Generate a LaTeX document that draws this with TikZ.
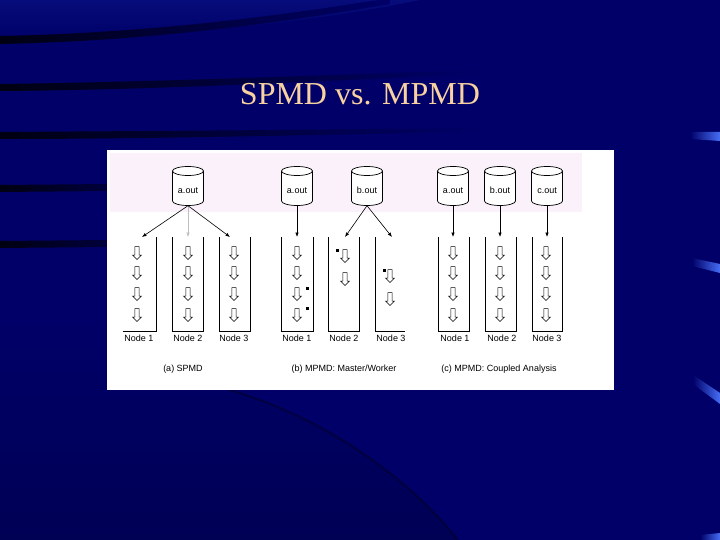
\documentclass[tikz,border=0pt]{standalone}
\usepackage{fontspec}
\setmainfont{Liberation Serif}
\newfontfamily\diagfont{Liberation Sans}
\usetikzlibrary{shapes.geometric,shapes.arrows,arrows.meta}
\definecolor{bg}{RGB}{0,0,104}
\definecolor{bglight}{RGB}{6,12,122}
\definecolor{bgdark}{RGB}{0,0,36}
\definecolor{streak}{RGB}{0,0,18}
\definecolor{lightb}{RGB}{70,110,245}
\definecolor{titlec}{RGB}{248,210,160}
\definecolor{pinkish}{RGB}{250,241,250}
\newcommand\mycyl[3]{%
  \draw[cylline,fill=white] (#2-15.5,171) -- (#2-15.5,201)
     arc[start angle=180,end angle=0,x radius=15.5,y radius=4.5] -- (#2+15.5,171);
  \draw[cylline,fill=white] (#2,171) ellipse[x radius=15.5,y radius=4.5];
  \node[cyltext] (#1) at (#2,190.5) {#3};}
\begin{document}
\begin{tikzpicture}[x=1pt,y=-1pt,
  cylline/.style={draw=black,line width=0.7pt},
  cyltext/.style={font=\diagfont\fontsize{9}{10}\selectfont,minimum width=31pt,minimum height=30pt,inner sep=0pt},
  conn/.style={line width=0.6pt,-{Latex[length=4.5pt,width=3.5pt]}},
  col/.style={line width=0.8pt},
  blk/.style={shape=single arrow,draw,fill=white,line width=0.6pt,shape border rotate=270,
     inner sep=1.8pt,minimum height=13pt,single arrow head extend=2.3pt},
  lab/.style={font=\diagfont\fontsize{9}{10}\selectfont,inner sep=0pt},
  title/.style={font=\fontsize{32}{38}\selectfont,text=titlec,inner sep=0pt}]
\useasboundingbox (0,0) rectangle (720,540);
% background
\fill[bg] (0,0) rectangle (720,540);
\shade[top color=bglight,bottom color=bg] (0,0) -- (420,0) .. controls (300,25) and (150,38) .. (0,40) -- cycle;
\begin{scope}
  \clip (0,320) -- (107,320) -- (107,390) -- (230,390) .. controls (330,420) and (410,480) .. (458,540) -- (0,540) -- cycle;
  \shade[top color=bg,middle color=bgdark,bottom color=bg!80!black] (0,320) rectangle (460,560);
\end{scope}
\draw[streak,line width=2pt,opacity=0.4] (230,390) .. controls (330,420) and (410,480) .. (458,540);
% dark streaks
\shade[left color=streak,right color=bg] (0,36) .. controls (150,33) and (280,16) .. (390,-2) -- (390,4) .. controls (280,23) and (150,41) .. (0,44) -- cycle;
\shade[left color=streak,right color=bg] (0,84) .. controls (150,82) and (300,76) .. (480,70) -- (480,74) .. controls (300,82) and (150,90) .. (0,91) -- cycle;
\shade[left color=streak,right color=bg] (0,132) .. controls (150,131) and (300,130) .. (480,128) -- (480,132) .. controls (300,135) and (150,139) .. (0,139) -- cycle;
\shade[left color=streak,right color=streak!50!bg] (0,185) -- (110,184) -- (110,191) -- (0,192) -- cycle;
\shade[left color=streak,right color=streak!50!bg] (0,241) -- (110,240) -- (110,247) -- (0,248) -- cycle;
% light streaks at right
\shade[left color=bg,right color=lightb] (690,132) -- (720,132) -- (720,141) -- (690,139) -- cycle;
\shade[left color=bg,right color=lightb] (692,258) -- (720,264) -- (720,273) -- (692,266) -- cycle;
\shade[left color=bg,right color=lightb] (693,375) -- (720,393) -- (720,404) -- (693,384) -- cycle;
\shade[left color=bg,right color=lightb] (700,535) -- (720,533) -- (720,540) -- (700,540) -- cycle;
% title
\node[title,anchor=base] (title) at (360,105) {SPMD vs. MPMD};
% panel
\fill[white] (107,150) rectangle (614,390);
\fill[pinkish] (110,153) rectangle (582,212);
% cylinders
\mycyl{ca}{188}{a.out}
\mycyl{cb1}{297}{a.out}
\mycyl{cb2}{367}{b.out}
\mycyl{cc1}{453}{a.out}
\mycyl{cc2}{500}{b.out}
\mycyl{cc3}{547}{c.out}
% column tops
\coordinate (ta1) at (142,237);
\coordinate (ta2) at (188,237);
\coordinate (ta3) at (230,237);
\coordinate (tb1) at (297,237);
\coordinate (tb2) at (345,237);
\coordinate (tb3) at (392,237);
\coordinate (tc1) at (453,237);
\coordinate (tc2) at (500,237);
\coordinate (tc3) at (547,237);
% connectors
\draw[conn] (ca.south) -- (ta1);
\draw[conn,draw=black!25] (ca.south) -- (ta2);
\draw[conn] (ca.south) -- (ta3);
\draw[conn] (cb1.south) -- (tb1);
\draw[conn] (cb2.south) -- (tb2);
\draw[conn] (cb2.south) -- (tb3);
\draw[conn] (cc1.south) -- (tc1);
\draw[conn] (cc2.south) -- (tc2);
\draw[conn] (cc3.south) -- (tc3);
% columns
\draw[col] (156,237) -- (156,331) -- (123,331);
\draw[col] (172,237) -- (172,331) -- (203,331) -- (203,237);
\draw[col] (219,237) -- (219,331) -- (250,331) -- (250,237);
\draw[col] (281,237) -- (281,331) -- (313,331) -- (313,237);
\draw[col] (328,237) -- (328,331) -- (359,331) -- (359,237);
\draw[col] (375,237) -- (375,331) -- (405,331);
\draw[col] (438,237) -- (438,331) -- (469,331) -- (469,237);
\draw[col] (485,237) -- (485,331) -- (516,331) -- (516,237);
\draw[col] (532,237) -- (532,331) -- (562,331) -- (562,237);
% block arrows
\foreach \c/\x in {a1/137,a2/188,a3/234,b1/297,c1/453,c2/500,c3/546}
  \foreach \r/\y in {1/252,2/272,3/293,4/314}
    \node[blk] (k\c\r) at (\x,\y) {};
\node[blk] (kb21) at (345,255) {};
\node[blk] (kb22) at (345,278) {};
\node[blk] (kb31) at (390,275) {};
\node[blk] (kb32) at (390,298) {};
% dots
\fill (336,249) rectangle (338.5,251.5);
\fill (383,269) rectangle (385.5,271.5);
\fill (306,287) rectangle (308.5,289.5);
\fill (306,307) rectangle (308.5,309.5);
% node labels
\node[lab] (la1) at (139,338) {Node 1};
\node[lab] (la2) at (188,338) {Node 2};
\node[lab] (la3) at (234,338) {Node 3};
\node[lab] (lb1) at (297,338) {Node 1};
\node[lab] (lb2) at (344,338) {Node 2};
\node[lab] (lb3) at (391,338) {Node 3};
\node[lab] (lc1) at (455,338) {Node 1};
\node[lab] (lc2) at (502,338) {Node 2};
\node[lab] (lc3) at (547,338) {Node 3};
% captions
\node[lab] (capa) at (183,369) {(a) SPMD};
\node[lab] (capb) at (344,369) {(b) MPMD: Master/Worker};
\node[lab] (capc) at (499,369) {(c) MPMD: Coupled Analysis};
\end{tikzpicture}
\end{document}
